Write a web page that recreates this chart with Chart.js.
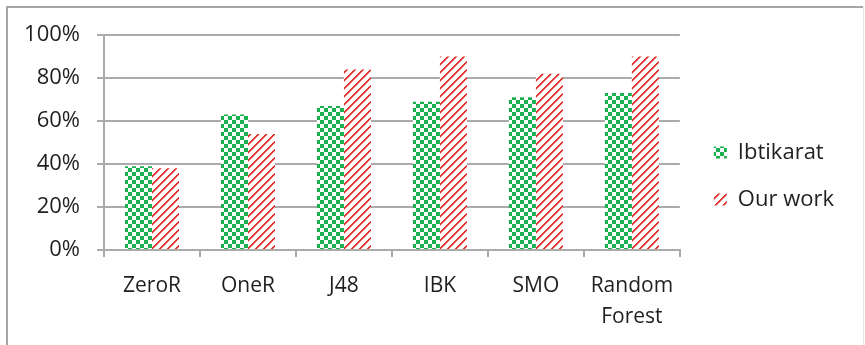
<!DOCTYPE html>
<html>
<head>
<meta charset="utf-8">
<script src="https://cdn.jsdelivr.net/npm/chart.js@4/dist/chart.umd.min.js"></script>
<style>
  html, body { margin: 0; padding: 0; background: #ffffff; }
  #wrap { width: 865px; height: 345px; }
</style>
</head>
<body>
<div id="wrap"><canvas id="chart" width="865" height="345"></canvas></div>
<script>
// Classifier accuracy, two sources
const categories = ['ZeroR', 'OneR', 'J48', 'IBK', 'SMO', ['Random', 'Forest']];
const ibtikarat = [39, 63, 67, 69, 71, 73];
const ourWork = [38, 54, 84, 90, 82, 90];
const seriesNames = ['Ibtikarat', 'Our work'];
const yTicks = [0, 20, 40, 60, 80, 100];

const GREEN = '#19b04f';
const RED = '#e2302a';
const RED_SOFT = 'rgba(226, 48, 42, 0.4)';
const GRID = '#ababab';
const TEXT = '#1f1f1f';
const FONT = "'Open Sans', 'Noto Sans', sans-serif";

// Checkerboard fill: 4px squares
function checkerPattern(color) {
  const c = document.createElement('canvas');
  c.width = 8; c.height = 8;
  const g = c.getContext('2d');
  g.fillStyle = '#ffffff';
  g.fillRect(0, 0, 8, 8);
  g.fillStyle = color;
  g.fillRect(0, 0, 4, 4);
  g.fillRect(4, 4, 4, 4);
  return g.createPattern(c, 'repeat');
}

// Upward diagonal hatching, 8px period with a soft edge
function hatchPattern(color, soft) {
  const n = 8;
  const c = document.createElement('canvas');
  c.width = n; c.height = n;
  const g = c.getContext('2d');
  g.fillStyle = '#ffffff';
  g.fillRect(0, 0, n, n);
  for (let i = 0; i < n; i++) {
    g.fillStyle = color;
    g.fillRect(i, (n - 1 - i) % n, 1, 1);
    g.fillRect(i, (n - i) % n, 1, 1);
    g.fillStyle = soft;
    g.fillRect(i, (n + 1 - i) % n, 1, 1);
  }
  return g.createPattern(c, 'repeat');
}

// Outer frame of the chart
const framePlugin = {
  id: 'frame',
  beforeDraw(chart) {
    const ctx = chart.ctx;
    ctx.save();
    ctx.lineWidth = 2;
    ctx.strokeStyle = '#a6a6a6';
    ctx.beginPath();
    ctx.moveTo(7, 345);
    ctx.lineTo(7, 7);
    ctx.lineTo(863, 7);
    ctx.stroke();
    ctx.strokeStyle = '#e6e6e6';
    ctx.lineWidth = 1;
    ctx.beginPath();
    ctx.moveTo(863.5, 7);
    ctx.lineTo(863.5, 345);
    ctx.stroke();
    ctx.restore();
  }
};

// Nudge the legend block right of the plot and up a little
const legendNudge = {
  id: 'legendNudge',
  afterLayout(chart) {
    const lg = chart.legend;
    if (lg) {
      lg.left += 9;
      lg.right += 9;
      lg.top -= 14;
      lg.bottom -= 14;
    }
  }
};

new Chart(document.getElementById('chart'), {
  type: 'bar',
  data: {
    labels: categories,
    datasets: [
      {
        label: seriesNames[0],
        data: ibtikarat,
        backgroundColor: checkerPattern(GREEN),
        borderWidth: 0
      },
      {
        label: seriesNames[1],
        data: ourWork,
        backgroundColor: hatchPattern(RED, RED_SOFT),
        borderWidth: 0
      }
    ]
  },
  options: {
    responsive: false,
    animation: false,
    events: [],
    layout: { padding: { left: 0, top: 35, right: 30, bottom: 0 } },
    datasets: {
      bar: { categoryPercentage: 0.5625, barPercentage: 1.0 }
    },
    plugins: {
      legend: {
        position: 'right',
        align: 'center',
        labels: {
          boxWidth: 13,
          boxHeight: 12,
          padding: 25,
          color: TEXT,
          font: { family: FONT, size: 22 }
        }
      },
      tooltip: { enabled: false },
      title: { display: false }
    },
    scales: {
      x: {
        grid: {
          drawOnChartArea: false,
          drawTicks: true,
          tickLength: 7,
          color: GRID,
          lineWidth: 2
        },
        border: { color: GRID, width: 2 },
        ticks: {
          color: TEXT,
          padding: 13,
          maxRotation: 0,
          autoSkip: false,
          font: { family: FONT, size: 21, lineHeight: 1.48 }
        },
        afterFit(scale) { scale.height = 95; }
      },
      y: {
        min: 0,
        max: 100,
        afterBuildTicks(scale) {
          scale.ticks = yTicks.map(v => ({ value: v }));
        },
        grid: {
          drawTicks: true,
          tickLength: 7,
          color: GRID,
          lineWidth: 2
        },
        border: { color: GRID, width: 2 },
        ticks: {
          color: TEXT,
          padding: 17,
          font: { family: FONT, size: 22 },
          callback: v => v + '%'
        },
        afterFit(scale) { scale.width = 104; }
      }
    }
  },
  plugins: [framePlugin, legendNudge]
});
</script>
</body>
</html>
